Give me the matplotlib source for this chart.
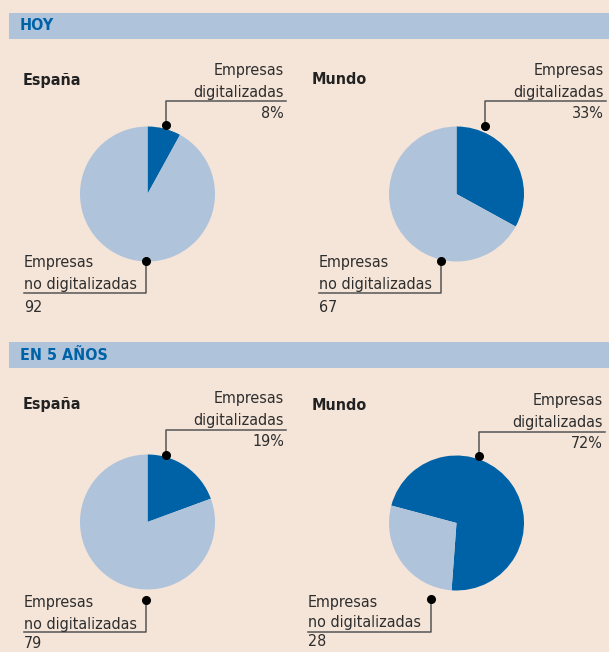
import matplotlib.pyplot as plt

# Data: share of companies (%) digitalised / not digitalised
regions = ['España', 'Mundo']
periods = ['HOY', 'EN 5 AÑOS']
digital_hoy = [8, 33]
no_digital_hoy = [92, 67]
digital_5 = [19, 72]
no_digital_5 = [79, 28]

W, H = 609, 652
BG = '#F5E5D9'
DARK = '#0062A6'
LIGHT = '#AFC3DB'
TXT = '#2E2E2E'
LINE = '#555555'
FONT = dict(family='DejaVu Sans', fontstretch='condensed')

plt.rcParams['font.family'] = 'DejaVu Sans'

fig = plt.figure(figsize=(W / 100, H / 100), dpi=100, facecolor=BG)
ax = fig.add_axes([0, 0, 1, 1])
ax.set_facecolor(BG)


def Y(y):
    # pixel row (from top) -> data y
    return H - y


# section bands
band_top = [13, 342]
for p, label in enumerate(periods):
    y0 = band_top[p]
    ax.add_patch(plt.Rectangle((9, Y(y0 + 26)), W - 9, 26, color=LIGHT, lw=0, zorder=1))
    ax.text(20, Y(y0 + 13), label, color=DARK, fontsize=11.5, fontweight='bold',
            va='center', ha='left', zorder=3, **FONT)

# panel layout (pixels from top)
panels = [
    dict(cx=147.5, cy=194, start=90, title=(23, 80), tr=284, ty=(70, 92, 113), ul=101,
         dot_t=(166, 125), bl=24, by=(263, 285, 307), ul2=293, dot_b=(146, 261)),
    dict(cx=456.5, cy=194, start=90, title=(312, 80), tr=604, ty=(70, 92, 113), ul=101,
         dot_t=(485, 126), bl=319, by=(263, 285, 307), ul2=293, dot_b=(441, 261)),
    dict(cx=147.5, cy=522, start=90, title=(23, 405), tr=284, ty=(399, 420, 442), ul=430,
         dot_t=(166, 455), bl=24, by=(603, 624, 644), ul2=632, dot_b=(146, 600)),
    dict(cx=456.5, cy=523, start=165, title=(312, 405), tr=603, ty=(401, 422, 443), ul=432,
         dot_t=(479, 456), bl=308, by=(603, 623, 642), ul2=632, dot_b=(431, 599)),
]

values = [(digital_hoy[0], no_digital_hoy[0]), (digital_hoy[1], no_digital_hoy[1]),
          (digital_5[0], no_digital_5[0]), (digital_5[1], no_digital_5[1])]

R = 67.5
for i, lay in enumerate(panels):
    dig, nodig = values[i]
    ax.pie([dig, nodig], colors=[DARK, LIGHT], startangle=lay['start'], counterclock=False,
           center=(lay['cx'], Y(lay['cy'])), radius=R, frame=True,
           wedgeprops=dict(linewidth=0))

    tx, ty = lay['title']
    ax.text(tx, Y(ty), regions[i % 2], color='#222222', fontsize=11.5, fontweight='bold',
            ha='left', va='center', **FONT)

    # top-right label (digitalizadas)
    for txt, yy in zip(['Empresas', 'digitalizadas', f'{dig}%'], lay['ty']):
        ax.text(lay['tr'], Y(yy), txt, color=TXT, fontsize=11.5, ha='right', va='center', **FONT)
    dx, dy = lay['dot_t']
    ax.plot([lay['tr'] + 2, dx, dx], [Y(lay['ul']), Y(lay['ul']), Y(dy)], color=LINE, lw=1.1)
    ax.plot(dx, Y(dy), 'o', color='black', ms=5.5)

    # bottom-left label (no digitalizadas)
    for txt, yy in zip(['Empresas', 'no digitalizadas', f'{nodig}'], lay['by']):
        ax.text(lay['bl'], Y(yy), txt, color=TXT, fontsize=11.5, ha='left', va='center', **FONT)
    dx, dy = lay['dot_b']
    ax.plot([lay['bl'], dx, dx], [Y(lay['ul2']), Y(lay['ul2']), Y(dy)], color=LINE, lw=1.1)
    ax.plot(dx, Y(dy), 'o', color='black', ms=5.5)

ax.set_xlim(0, W)
ax.set_ylim(0, H)
ax.set_aspect('auto')
ax.axis('off')

fig.savefig('out.png', dpi=100, facecolor=BG)
